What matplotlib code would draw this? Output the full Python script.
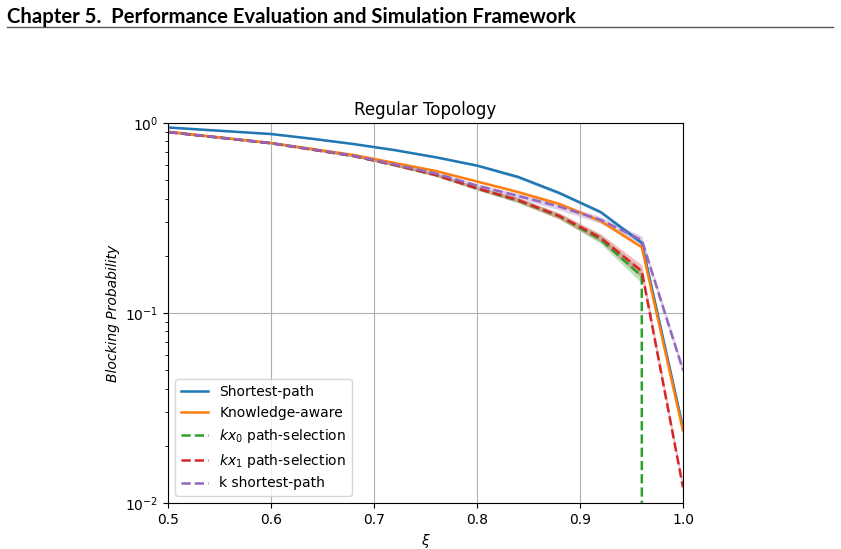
import numpy as np
import matplotlib.pyplot as plt

# load (xi) values and blocking probabilities
xi = [0.5, 0.6, 0.64, 0.68, 0.72, 0.76, 0.8, 0.84, 0.88, 0.92, 0.96, 1.0]

shortest_path = [0.947, 0.875, 0.826, 0.775, 0.720, 0.660, 0.597, 0.520, 0.428, 0.340, 0.234, 0.025]
knowledge_aware = [0.900, 0.785, 0.730, 0.679, 0.616, 0.559, 0.492, 0.433, 0.375, 0.305, 0.222, 0.024]
kx0_selection = [0.895, 0.782, 0.724, 0.670, 0.600, 0.532, 0.452, 0.390, 0.322, 0.244, 0.156, 0.0]
kx1_selection = [0.895, 0.782, 0.724, 0.670, 0.601, 0.533, 0.453, 0.393, 0.324, 0.249, 0.166, 0.0121]
k_shortest = [0.897, 0.784, 0.727, 0.674, 0.605, 0.542, 0.468, 0.413, 0.363, 0.309, 0.242, 0.050]

# half width of the confidence band (relative)
band_sp = [0.01, 0.01, 0.01, 0.01, 0.01, 0.01, 0.015, 0.02, 0.02, 0.02, 0.03, 0.03]
band_ka = [0.01, 0.01, 0.01, 0.01, 0.01, 0.01, 0.01, 0.015, 0.015, 0.02, 0.02, 0.03]
band_kx0 = [0.01, 0.01, 0.01, 0.01, 0.015, 0.02, 0.02, 0.03, 0.03, 0.05, 0.08, 0.0]
band_kx1 = [0.01, 0.01, 0.01, 0.01, 0.015, 0.02, 0.02, 0.03, 0.04, 0.05, 0.08, 0.05]
band_ks = [0.01, 0.01, 0.01, 0.015, 0.015, 0.02, 0.025, 0.03, 0.04, 0.04, 0.05, 0.05]

series = [
    (shortest_path, band_sp, 'Shortest-path', 'tab:blue', '-'),
    (knowledge_aware, band_ka, 'Knowledge-aware', 'tab:orange', '-'),
    (kx0_selection, band_kx0, '$kx_0$ path-selection', 'tab:green', '--'),
    (kx1_selection, band_kx1, '$kx_1$ path-selection', 'tab:red', '--'),
    (k_shortest, band_ks, 'k shortest-path', 'tab:purple', '--'),
]

fig = plt.figure(figsize=(8.41, 5.49), dpi=100)

# page header like in the thesis
fig.text(0.008, 0.969, 'Chapter 5.  Performance Evaluation and Simulation Framework',
         fontsize=14.6, fontweight='bold', family='Lato', va='center')
fig.add_artist(plt.Line2D([0.008, 0.991], [0.951, 0.951], color='#555555', lw=1.0))

ax = fig.add_axes([0.1998, 0.0838, 0.6123, 0.6922])
for vals, band, label, color, ls in series:
    y = np.array(vals)
    b = np.array(band)
    ax.fill_between(xi, y * (1 - b), y * (1 + b), color=color, alpha=0.3, lw=0)
    ax.plot(xi, y, ls, color=color, label=label, lw=1.8)

ax.set_yscale('log')
ax.set_xlim(0.5, 1.0)
ax.set_ylim(1e-2, 1e0)
ax.set_xticks([0.5, 0.6, 0.7, 0.8, 0.9, 1.0])
ax.grid(True, which='major', color='#b0b0b0')
ax.set_title('Regular Topology', fontsize=12)
ax.set_xlabel(r'$\xi$')
ax.set_ylabel('Blocking Probability', style='italic')
ax.legend(loc='lower left')

plt.savefig('out.png', dpi=100)
